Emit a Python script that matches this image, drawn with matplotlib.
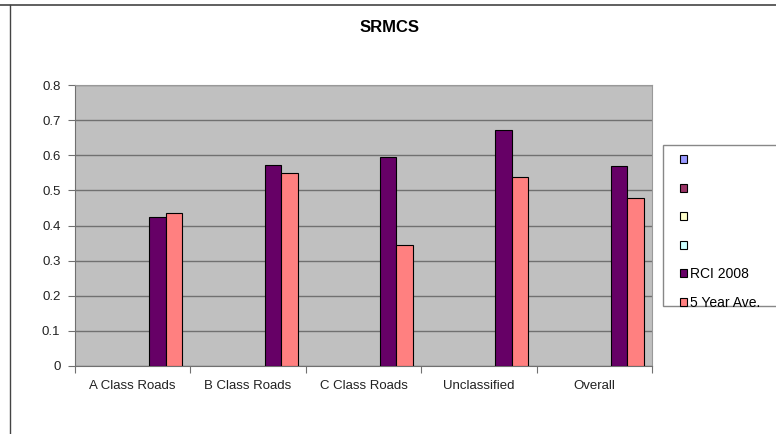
import matplotlib.pyplot as plt
import numpy as np
from matplotlib.patches import Patch, Rectangle
from matplotlib.lines import Line2D

plt.rcParams['font.family'] = ['Liberation Sans', 'DejaVu Sans']

categories = ["A Class Roads", "B Class Roads", "C Class Roads", "Unclassified", "Overall"]
rci_2008 = [0.425, 0.572, 0.595, 0.672, 0.570]
five_year_ave = [0.436, 0.550, 0.345, 0.537, 0.478]

# four empty series sit in the legend but have no data
empty_names = ["", "", "", ""]
empty_colors = ["#9999FF", "#993366", "#FFFFCC", "#CCFFFF"]

W, H = 776, 434
fig = plt.figure(figsize=(W / 100, H / 100), dpi=100)
fig.patch.set_facecolor("white")

# chart border: only top and left edges are visible in the crop
fig.add_artist(Line2D([0, 1], [1 - 5 / H, 1 - 5 / H], transform=fig.transFigure,
                      color="#444444", linewidth=1.2))
fig.add_artist(Line2D([10 / W, 10 / W], [0, 1 - 5 / H], transform=fig.transFigure,
                      color="#444444", linewidth=1.0))

ax = fig.add_axes([75 / W, (H - 366) / H, (652 - 75) / W, (366 - 85) / H])
ax.set_facecolor("#C0C0C0")

n_series = 6
w = 1.0 / (n_series + 1)
x = np.arange(len(categories))
start = -0.5 + w
pos5 = x + start + 4 * w
pos6 = x + start + 5 * w
ax.bar(pos5, rci_2008, width=w, color="#660066", edgecolor="black", linewidth=0.8, zorder=3)
ax.bar(pos6, five_year_ave, width=w, color="#FF8080", edgecolor="black", linewidth=0.8, zorder=3)

ax.set_xlim(-0.5, len(categories) - 0.5)
ax.set_ylim(0, 0.8)
ax.set_yticks(np.arange(0, 0.81, 0.1))
ax.set_yticklabels(["0", "0.1", "0.2", "0.3", "0.4", "0.5", "0.6", "0.7", "0.8"])
ax.yaxis.grid(True, color="#707070", linewidth=1.0, zorder=1)
ax.set_axisbelow(True)

ax.set_xticks(np.arange(-0.5, len(categories)), minor=False)
ax.set_xticklabels([])
ax.set_xticks(x, minor=True)
ax.set_xticklabels(categories, minor=True)
ax.tick_params(axis="x", which="major", length=5, color="#707070", direction="out")
ax.tick_params(axis="x", which="minor", length=0, pad=10, labelsize=9.5, labelcolor="#222222")
ax.tick_params(axis="y", length=5, color="#707070", labelsize=9.5, pad=5.5, labelcolor="#222222")

for side in ["left", "bottom"]:
    ax.spines[side].set_color("#707070")
for side in ["right", "top"]:
    ax.spines[side].set_color("#999999")

fig.text(390 / W, 1 - 28 / H, "SRMCS", ha="center", va="center", fontsize=12, fontweight="bold")

# legend frame runs off the right edge of the picture
fig.add_artist(Rectangle((663 / W, 1 - 306 / H), 130 / W, 161 / H, transform=fig.transFigure,
                         facecolor="white", edgecolor="#888888", linewidth=1.0))
handles = [Patch(facecolor=c, edgecolor="black", linewidth=0.8) for c in empty_colors]
handles += [Patch(facecolor="#660066", edgecolor="black", linewidth=0.8),
            Patch(facecolor="#FF8080", edgecolor="black", linewidth=0.8)]
labels = empty_names + ["RCI 2008", "5 Year Ave."]
leg = fig.legend(handles, labels, loc="upper left", bbox_to_anchor=(680 / W, 1 - 153 / H),
                 fontsize=10, frameon=False, handlelength=0.5, handleheight=0.5,
                 handletextpad=0.25, labelspacing=1.05, borderpad=0, borderaxespad=0)

fig.savefig("out.png", dpi=100)
